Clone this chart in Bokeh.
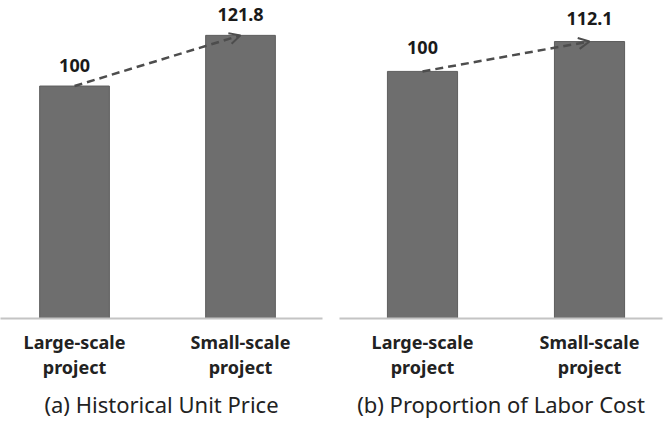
from bokeh.plotting import figure
from bokeh.layouts import row
from bokeh.models import (Range1d, FixedTicker, Arrow, OpenHead, ColumnDataSource,
                          LinearAxis)
from bokeh.core.properties import value
from bokeh.embed import file_html
from bokeh.resources import INLINE

categories_line1 = ["Large-scale", "Small-scale"]
categories_line2 = ["project", "project"]
positions = [0, 1]
unit_price = [100, 121.8]
labor_cost = [100, 112.1]
captions = ["(a) Historical Unit Price", "(b) Proportion of Labor Cost"]

BAR = "#6e6e6e"
FONT = "Noto Sans"


def style_axis(ax, labels, standoff):
    ax.ticker = FixedTicker(ticks=positions)
    ax.major_label_overrides = {pos: c for pos, c in zip(positions, labels)}
    ax.major_tick_line_color = None
    ax.minor_tick_line_color = None
    ax.major_label_text_font = FONT
    ax.major_label_text_font_style = "bold"
    ax.major_label_text_font_size = "18px"
    ax.major_label_text_color = "#222222"
    ax.major_label_standoff = standoff


def panel(vals, caption, x_start, x_end, y_end, mbl, mbr, mbb, label_off):
    p = figure(width=332, height=422, output_backend="svg", toolbar_location=None,
               x_range=Range1d(x_start, x_end), y_range=Range1d(0, y_end),
               min_border_left=mbl, min_border_right=mbr, min_border_top=0,
               min_border_bottom=mbb)
    p.outline_line_color = None
    p.xgrid.visible = False
    p.ygrid.visible = False
    p.yaxis.visible = False
    src = ColumnDataSource(dict(x=positions, top=vals,
                                lab=[("%g" % v) for v in vals]))
    p.vbar(x="x", top="top", width=0.42, bottom=0, source=src,
           fill_color=BAR, line_color="#5e5e5e", line_width=1)
    p.add_layout(Arrow(end=OpenHead(size=11, line_width=2, line_color="#4d4d4d"),
                       x_start=positions[0], y_start=vals[0],
                       x_end=positions[1], y_end=vals[1],
                       line_color="#4d4d4d", line_width=2.5, line_dash="8 5"))
    p.text(x="x", y="top", text="lab", source=src, text_align="center",
           text_baseline="bottom", y_offset=label_off,
           text_font=value(FONT), text_font_style="bold",
           text_font_size="18px", text_color="#1a1a1a")
    ax1 = p.xaxis[0]
    style_axis(ax1, categories_line1, 5)
    ax1.axis_line_color = "#c4c4c4"
    ax1.axis_line_width = 2

    ax2 = LinearAxis()
    style_axis(ax2, categories_line2, -8)
    ax2.axis_line_color = None
    ax2.axis_label = caption
    ax2.axis_label_text_font = FONT
    ax2.axis_label_text_font_style = "normal"
    ax2.axis_label_text_font_size = "22px"
    ax2.axis_label_text_color = "#222222"
    ax2.axis_label_standoff = 7
    p.add_layout(ax2, "below")
    return p


p1 = panel(unit_price, captions[0], -0.446, 1.494, 136.8, 0, 10, 102, -14)
p2 = panel(labor_cost, captions[1], -0.497, 1.437, 128.7, 7, 2, 104, -17)

layout = row(p1, p2)
open("out.html", "w").write(file_html(layout, INLINE))
